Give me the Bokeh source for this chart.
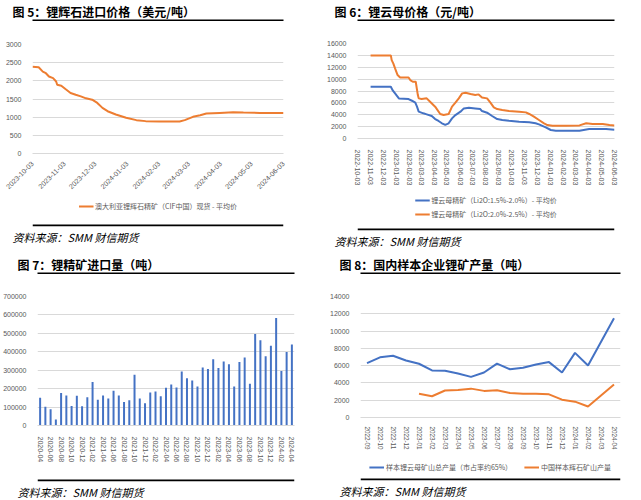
import pandas as pd
from bokeh.plotting import figure
from bokeh.models import (Range1d, FactorRange, FixedTicker, DatetimeTickFormatter,
                          NumeralTickFormatter, Legend, LegendItem, Title, Span)
from bokeh.layouts import row, column
from bokeh.embed import file_html
from bokeh.resources import INLINE

# ---------------- data ----------------
titles = ["图 5：锂辉石进口价格（美元/吨）", "图 6：锂云母价格（元/吨）",
          "图 7：锂精矿进口量（吨）", "图 8：国内样本企业锂矿产量（吨）"]
source_text = "资料来源：SMM  财信期货"

# Fig 5
p5_dates = ["2023-10-03", "2023-10-09", "2023-10-13", "2023-10-16", "2023-10-19", "2023-10-23",
            "2023-10-26", "2023-10-27", "2023-10-31", "2023-11-04", "2023-11-09", "2023-11-14",
            "2023-11-19", "2023-11-24", "2023-11-30", "2023-12-05", "2023-12-10", "2023-12-15",
            "2023-12-23", "2024-01-02", "2024-01-12", "2024-01-21", "2024-02-03", "2024-02-23",
            "2024-02-28", "2024-03-07", "2024-03-14", "2024-03-20", "2024-04-02", "2024-04-15",
            "2024-04-25", "2024-05-11", "2024-06-03"]
p5_price = [2390, 2373, 2255, 2210, 2118, 2073, 1982, 1890, 1864, 1773, 1664, 1618,
            1573, 1518, 1482, 1391, 1255, 1164, 1073, 982, 918, 891, 882, 882,
            918, 1009, 1055, 1100, 1118, 1136, 1127, 1118, 1118]
p5_ticks = ["2023-10-03", "2023-11-03", "2023-12-03", "2024-01-03", "2024-02-03",
            "2024-03-03", "2024-04-03", "2024-05-03", "2024-06-03"]
p5_label = "澳大利亚锂辉石精矿（CIF中国）现货 - 平均价"

# Fig 6
p6_low_dates = ["2022-11-03", "2022-12-21", "2022-12-25", "2022-12-31", "2023-01-09", "2023-02-01",
                "2023-02-09", "2023-02-17", "2023-02-21", "2023-02-25", "2023-03-08", "2023-03-16",
                "2023-03-28", "2023-04-05", "2023-04-13", "2023-04-21", "2023-04-29", "2023-05-07",
                "2023-05-15", "2023-05-23", "2023-06-04", "2023-06-12", "2023-06-24", "2023-07-09",
                "2023-07-21", "2023-07-25", "2023-08-06", "2023-08-18", "2023-08-30", "2023-09-11",
                "2023-09-27", "2023-10-21", "2023-11-14", "2023-11-29", "2023-12-07", "2023-12-23",
                "2024-01-04", "2024-01-16", "2024-03-12", "2024-04-04", "2024-05-14", "2024-06-03"]
p6_low = [8710, 8710, 8150, 7590, 6750, 6640, 6360, 6030, 5360, 4520, 4240, 4070,
          3790, 3280, 2950, 2560, 2300, 2560, 3390, 3950, 4520, 5070, 5180, 5070,
          4960, 4620, 4350, 3790, 3280, 3120, 3000, 2830, 2720, 2560, 2380, 1880,
          1430, 1320, 1320, 1600, 1600, 1490]
p6_high_dates = ["2022-11-03", "2022-12-21", "2022-12-23", "2022-12-27", "2022-12-31", "2023-01-06",
                 "2023-01-12", "2023-02-01", "2023-02-05", "2023-02-11", "2023-02-18", "2023-02-23",
                 "2023-02-25", "2023-03-04", "2023-03-16", "2023-03-24", "2023-04-05", "2023-04-17",
                 "2023-04-25", "2023-05-07", "2023-05-15", "2023-05-23", "2023-05-31", "2023-06-08",
                 "2023-06-16", "2023-06-28", "2023-07-09", "2023-07-17", "2023-07-25", "2023-08-06",
                 "2023-08-14", "2023-08-22", "2023-08-30", "2023-09-11", "2023-09-27", "2023-10-21",
                 "2023-11-06", "2023-11-14", "2023-11-25", "2023-12-07", "2023-12-19", "2023-12-27",
                 "2024-01-08", "2024-02-09", "2024-03-12", "2024-03-28", "2024-04-12", "2024-05-06",
                 "2024-05-22", "2024-06-03"]
p6_high = [14000, 14000, 13200, 12600, 11800, 10680, 10280, 10280, 9840, 9560, 9560, 7320,
           6760, 6640, 6760, 6200, 5360, 4130, 3950, 4130, 5360, 6030, 6760, 7600,
           7710, 7490, 7320, 7430, 6920, 6760, 6030, 5240, 4960, 4800, 4620, 4510,
           4400, 4130, 3680, 3120, 2560, 2270, 2160, 2160, 2210, 2560, 2460, 2460,
           2270, 2210]
p6_ticks = ["2022-10-03", "2022-11-03", "2022-12-03", "2023-01-03", "2023-02-03", "2023-03-03",
            "2023-04-03", "2023-05-03", "2023-06-03", "2023-07-03", "2023-08-03", "2023-09-03",
            "2023-10-03", "2023-11-03", "2023-12-03", "2024-01-03", "2024-02-03", "2024-03-03",
            "2024-04-03", "2024-05-03", "2024-06-03"]
p6_labels = ["锂云母精矿（Li2O:1.5%-2.0%）- 平均价", "锂云母精矿（Li2O:2.0%-2.5%）- 平均价"]

# Fig 7
p7_months = ["2020-04", "2020-05", "2020-06", "2020-07", "2020-08", "2020-09", "2020-10", "2020-11",
             "2020-12", "2021-01", "2021-02", "2021-03", "2021-04", "2021-05", "2021-06", "2021-07",
             "2021-08", "2021-09", "2021-10", "2021-11", "2021-12", "2022-01", "2022-02", "2022-03",
             "2022-04", "2022-05", "2022-06", "2022-07", "2022-08", "2022-09", "2022-10", "2022-11",
             "2022-12", "2023-01", "2023-02", "2023-03", "2023-04", "2023-05", "2023-06", "2023-07",
             "2023-08", "2023-09", "2023-10", "2023-11", "2023-12", "2024-01", "2024-02", "2024-03",
             "2024-04"]
p7_volume = [151000, 102000, 88000, 33000, 177000, 163000, 106000, 161000, 104000,
             153000, 236000, 140000, 163000, 146000, 189000, 163000, 127000, 137000, 276000, 147000, 121000,
             179000, 185000, 159000, 205000, 222000, 206000, 293000, 256000, 244000, 211000, 315000, 307000,
             360000, 312000, 347000, 333000, 211000, 345000, 369000, 227000, 497000, 463000, 376000, 433000,
             584000, 296000, 399000, 440000]

# Fig 8
p8_months = ["2022-09", "2022-10", "2022-11", "2022-12", "2023-01", "2023-02", "2023-03", "2023-04",
             "2023-05", "2023-06", "2023-07", "2023-08", "2023-09", "2023-10", "2023-11", "2023-12",
             "2024-01", "2024-02", "2024-03", "2024-04"]
p8_lepi_months = ["2022-09", "2022-10", "2022-11", "2022-12", "2023-01", "2023-02", "2023-03", "2023-04",
                  "2023-05", "2023-06", "2023-07", "2023-08", "2023-09", "2023-10", "2023-11", "2023-12",
                  "2024-01", "2024-02", "2024-04"]
p8_lepi = [6300, 6960, 7150, 6590, 6220, 5440, 5410, 5100, 4700, 5210, 6240, 5580,
           5760, 6130, 6410, 5210, 7480, 6020, 11480]
p8_spod_months = ["2023-01", "2023-02", "2023-03", "2023-04", "2023-05", "2023-06", "2023-07", "2023-08",
                  "2023-09", "2023-10", "2023-11", "2023-12", "2024-01", "2024-02", "2024-04"]
p8_spod = [2750, 2460, 3120, 3190, 3340, 3080, 3160, 2830, 2750, 2750, 2680, 2060, 1830, 1280, 3820]
p8_labels = ["样本锂云母矿山总产量（市占率约65%）", "中国样本辉石矿山产量"]

# ---------------- style ----------------
ORANGE = "#ED7D31"
BLUE = "#4472C4"
GRID = "#D9D9D9"
LABEL = "#595959"
CJK = "Noto Sans CJK SC"
NUM = "Liberation Sans"


def helper(fw, fh, left, right, top, bottom, bg="white"):
    p = figure(frame_width=fw, frame_height=fh, min_border_left=left, min_border_right=right,
               min_border_top=top, min_border_bottom=bottom, toolbar_location=None,
               output_backend="svg", x_axis_location=None, y_axis_location=None, title=None,
               x_range=(0, 1), y_range=(0, fh))
    p.background_fill_color = bg
    p.border_fill_color = "white"
    p.outline_line_color = None
    p.grid.visible = False
    return p


def header(text, fw, left, right, top, offset):
    # the 2px black frame of this helper is the rule under the title
    p = helper(fw, 2, left, right, top, 0, bg="black")
    t = Title(text=text, text_font=CJK, text_font_size="12px", text_font_style="bold",
              text_color="black", align="left", offset=offset, standoff=0)
    p.add_layout(t, "above")
    return p


def footer(fw, fh, left, right, bottom, offset, entries=None, orientation="vertical",
           spacing=4, margin=7):
    p = helper(fw, fh, left, right, 0, bottom)
    p.add_layout(Span(location=1, dimension="width", line_color="black", line_width=2))
    if entries:
        items = []
        for label, color in entries:
            # legend proxy kept outside the visible frame
            proxy = p.line(x=[-2, -1], y=[-50, -50], line_color=color, line_width=2)
            items.append(LegendItem(label=label, renderers=[proxy]))
        lg = Legend(items=items, orientation=orientation, location="top_center",
                    border_line_color=None, background_fill_alpha=0,
                    label_text_font=CJK, label_text_font_size="7px", label_text_color=LABEL,
                    glyph_width=15, glyph_height=6, label_height=10, label_standoff=2,
                    padding=0, margin=margin, spacing=spacing)
        p.add_layout(lg, "center")
    t = Title(text=source_text, text_font=CJK, text_font_size="11px", text_font_style="italic",
              text_color="black", align="left", offset=offset, standoff=0)
    p.add_layout(t, "below")
    return p


def style(p, label_size="7px"):
    p.outline_line_color = None
    p.border_fill_color = "white"
    p.xgrid.visible = False
    p.ygrid.grid_line_color = GRID
    p.ygrid.grid_line_width = 1
    for ax in p.axis:
        ax.major_tick_line_color = None
        ax.minor_tick_line_color = None
        ax.major_label_text_font_size = "7px"
        ax.major_label_text_color = LABEL
        ax.major_label_text_font = NUM
        ax.major_label_standoff = 5
    p.xaxis.major_label_text_font_size = label_size
    p.yaxis.axis_line_color = None
    p.xaxis.axis_line_color = GRID


def ms(dates):
    return [pd.Timestamp(d).value / 1e6 for d in dates]


date_fmt = DatetimeTickFormatter(days="%Y-%m-%d", months="%Y-%m-%d", years="%Y-%m-%d",
                                 hours="%Y-%m-%d", hourmin="%Y-%m-%d", minutes="%Y-%m-%d",
                                 minsec="%Y-%m-%d", seconds="%Y-%m-%d",
                                 milliseconds="%Y-%m-%d", microseconds="%Y-%m-%d")

# ---------------- Fig 5 ----------------
p5 = figure(frame_width=251, frame_height=109, min_border_left=32, min_border_right=29,
            min_border_top=23, min_border_bottom=36, x_axis_type="datetime",
            x_range=Range1d(pd.Timestamp(p5_ticks[0]), pd.Timestamp(p5_ticks[-1])),
            y_range=Range1d(0, 3000), toolbar_location=None, output_backend="svg")
p5.line(pd.to_datetime(p5_dates), p5_price, line_color=ORANGE, line_width=2)
style(p5)
p5.yaxis.ticker = FixedTicker(ticks=[0, 500, 1000, 1500, 2000, 2500, 3000])
p5.xaxis.ticker = FixedTicker(ticks=ms(p5_ticks))
p5.xaxis.formatter = date_fmt
p5.xaxis.major_label_orientation = 0.785
p5.xaxis.major_label_standoff = 3

# ---------------- Fig 6 ----------------
p6 = figure(frame_width=257, frame_height=95, min_border_left=45, min_border_right=11,
            min_border_top=22, min_border_bottom=41, x_axis_type="datetime",
            x_range=Range1d(pd.Timestamp(p6_ticks[0]), pd.Timestamp(p6_ticks[-1])),
            y_range=Range1d(0, 16000), toolbar_location=None, output_backend="svg")
p6.line(pd.to_datetime(p6_low_dates), p6_low, line_color=BLUE, line_width=2)
p6.line(pd.to_datetime(p6_high_dates), p6_high, line_color=ORANGE, line_width=2)
style(p6)
p6.yaxis.ticker = FixedTicker(ticks=list(range(0, 16001, 2000)))
p6.xaxis.ticker = FixedTicker(ticks=ms(p6_ticks))
p6.xaxis.formatter = date_fmt
p6.xaxis.major_label_orientation = "vertical"

# ---------------- Fig 7 ----------------
idx7 = list(range(len(p7_months)))
p7 = figure(frame_width=257, frame_height=129, min_border_left=32, min_border_right=23,
            min_border_top=22, min_border_bottom=31,
            x_range=Range1d(-0.5, len(p7_months) - 0.5), y_range=Range1d(0, 700000),
            toolbar_location=None, output_backend="svg")
p7.vbar(x=idx7, top=p7_volume, width=0.38, fill_color=BLUE, line_color=None)
style(p7)
p7.yaxis.ticker = FixedTicker(ticks=list(range(0, 700001, 100000)))
p7.yaxis.formatter = NumeralTickFormatter(format="0")
tick7 = idx7[::2]
p7.xaxis.ticker = FixedTicker(ticks=tick7)
p7.xaxis.major_label_overrides = {i: p7_months[i] for i in tick7}
p7.xaxis.major_label_orientation = "vertical"

# ---------------- Fig 8 ----------------
p8 = figure(frame_width=260, frame_height=121, min_border_left=43, min_border_right=10,
            min_border_top=22, min_border_bottom=27,
            x_range=FactorRange(factors=p8_months), y_range=Range1d(0, 14000),
            toolbar_location=None, output_backend="svg")
p8.line(p8_lepi_months, p8_lepi, line_color=BLUE, line_width=2)
p8.line(p8_spod_months, p8_spod, line_color=ORANGE, line_width=2)
style(p8, label_size="6.3px")
p8.xaxis.major_label_standoff = 3
p8.yaxis.ticker = FixedTicker(ticks=list(range(0, 14001, 2000)))
p8.xaxis.major_label_orientation = "vertical"

# ---------------- layout ----------------
col5 = column(header(titles[0], 251, 32, 29, 0, -20), p5,
              footer(251, 32, 32, 29, 14, -20, [(p5_label, ORANGE)]))
col6 = column(header(titles[1], 257, 45, 11, 0, -23), p6,
              footer(257, 42, 45, 11, 14, -23, [(p6_labels[0], BLUE), (p6_labels[1], ORANGE)]))
col7 = column(header(titles[2], 257, 32, 23, 24, -20), p7,
              footer(257, 16, 32, 23, 14, -20))
col8 = column(header(titles[3], 260, 43, 10, 24, -21), p8,
              footer(260, 28, 43, 10, 14, -21, [(p8_labels[0], BLUE), (p8_labels[1], ORANGE)],
                     "horizontal", 12, 10))
layout = column(row(col5, col6), row(col7, col8))

open("out.html", "w").write(file_html(layout, INLINE))
